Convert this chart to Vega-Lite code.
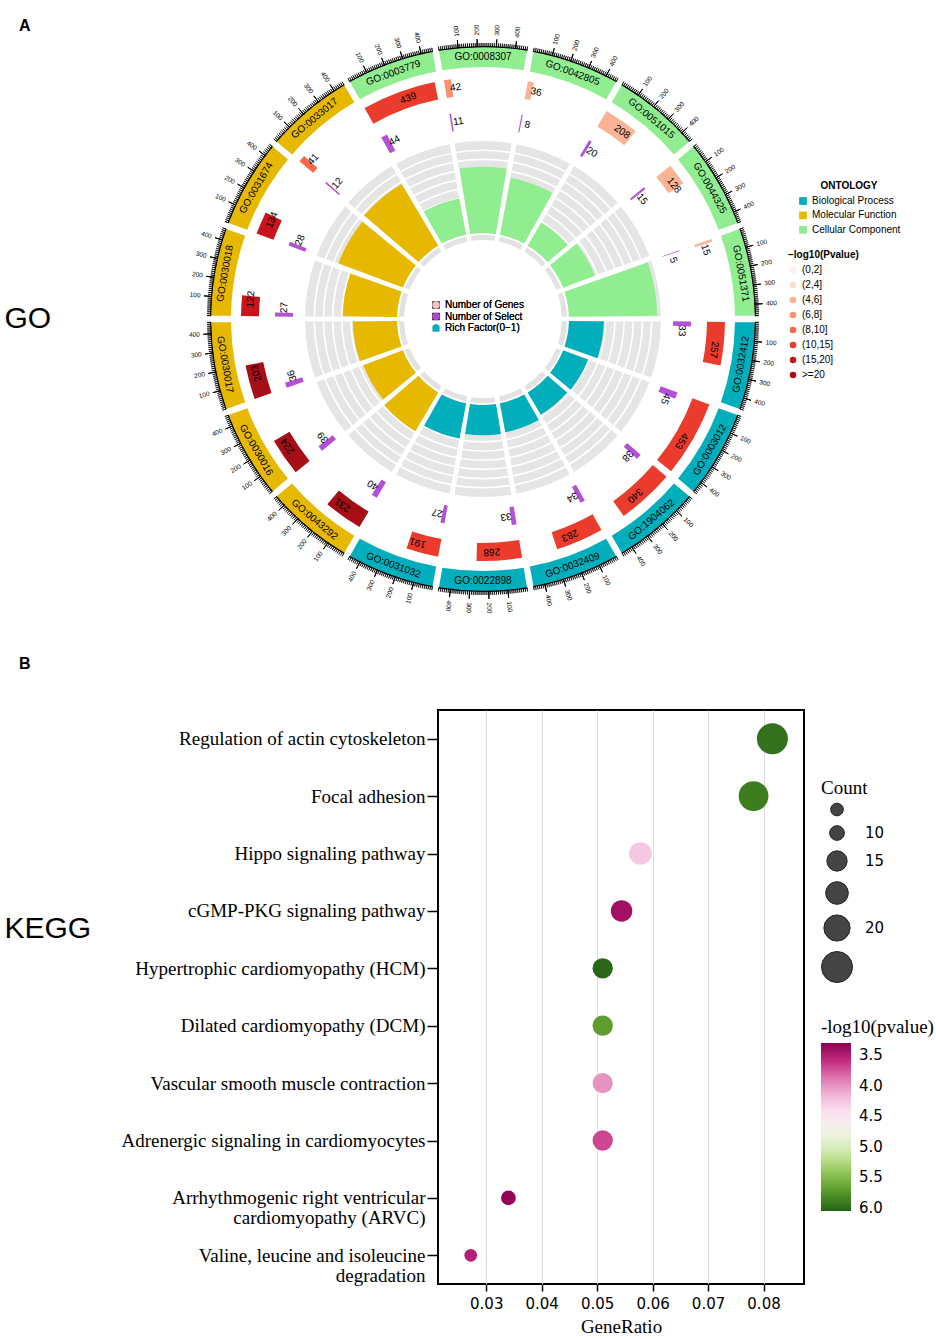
{
"$schema":"https://vega.github.io/schema/vega-lite/v6.json",
"background":"white",
"padding":{"left":3,"top":9,"right":0,"bottom":0},
"config":{"view":{"stroke":null},"font":"Liberation Sans","text":{"font":"Liberation Sans","color":"#000"},"legend":{"titleFont":"Liberation Sans","titleFontSize":10,"titleFontWeight":"bold","titleColor":"#000","labelFont":"Liberation Sans","labelFontSize":10,"labelColor":"#000"}},
"datasets":{
"go":[
{"idx":0,"term":"GO:0003779","ont":"Cellular Component","rich":0.40},
{"idx":1,"term":"GO:0008307","ont":"Cellular Component","rich":0.72},
{"idx":2,"term":"GO:0042805","ont":"Cellular Component","rich":0.63},
{"idx":3,"term":"GO:0051015","ont":"Cellular Component","rich":0.29},
{"idx":4,"term":"GO:0044325","ont":"Cellular Component","rich":0.37},
{"idx":5,"term":"GO:0051371","ont":"Cellular Component","rich":0.96},
{"idx":6,"term":"GO:0032412","ont":"Biological Process","rich":0.38},
{"idx":7,"term":"GO:0003012","ont":"Biological Process","rich":0.29},
{"idx":8,"term":"GO:1904062","ont":"Biological Process","rich":0.28},
{"idx":9,"term":"GO:0032409","ont":"Biological Process","rich":0.32},
{"idx":10,"term":"GO:0022898","ont":"Biological Process","rich":0.33},
{"idx":11,"term":"GO:0031032","ont":"Biological Process","rich":0.39},
{"idx":12,"term":"GO:0043292","ont":"Molecular Function","rich":0.49},
{"idx":13,"term":"GO:0030016","ont":"Molecular Function","rich":0.46},
{"idx":14,"term":"GO:0030017","ont":"Molecular Function","rich":0.48},
{"idx":15,"term":"GO:0030018","ont":"Molecular Function","rich":0.59},
{"idx":16,"term":"GO:0031674","ont":"Molecular Function","rich":0.75},
{"idx":17,"term":"GO:0033017","ont":"Molecular Function","rich":0.78}],
"bars":[
{"term":"GO:0003779","track":"genes","value":439,"plev":"(10,15]"},{"term":"GO:0003779","track":"select","value":44},
{"term":"GO:0008307","track":"genes","value":42,"plev":"(6,8]"},{"term":"GO:0008307","track":"select","value":11},
{"term":"GO:0042805","track":"genes","value":36,"plev":"(4,6]"},{"term":"GO:0042805","track":"select","value":8},
{"term":"GO:0051015","track":"genes","value":208,"plev":"(4,6]"},{"term":"GO:0051015","track":"select","value":20},
{"term":"GO:0044325","track":"genes","value":128,"plev":"(4,6]"},{"term":"GO:0044325","track":"select","value":15},
{"term":"GO:0051371","track":"genes","value":15,"plev":"(4,6]"},{"term":"GO:0051371","track":"select","value":5},
{"term":"GO:0032412","track":"genes","value":257,"plev":"(10,15]"},{"term":"GO:0032412","track":"select","value":33},
{"term":"GO:0003012","track":"genes","value":453,"plev":"(10,15]"},{"term":"GO:0003012","track":"select","value":45},
{"term":"GO:1904062","track":"genes","value":340,"plev":"(10,15]"},{"term":"GO:1904062","track":"select","value":38},
{"term":"GO:0032409","track":"genes","value":283,"plev":"(10,15]"},{"term":"GO:0032409","track":"select","value":34},
{"term":"GO:0022898","track":"genes","value":268,"plev":"(10,15]"},{"term":"GO:0022898","track":"select","value":33},
{"term":"GO:0031032","track":"genes","value":191,"plev":"(10,15]"},{"term":"GO:0031032","track":"select","value":27},
{"term":"GO:0043292","track":"genes","value":231,"plev":">=20"},{"term":"GO:0043292","track":"select","value":40},
{"term":"GO:0030016","track":"genes","value":224,"plev":">=20"},{"term":"GO:0030016","track":"select","value":39},
{"term":"GO:0030017","track":"genes","value":203,"plev":">=20"},{"term":"GO:0030017","track":"select","value":36},
{"term":"GO:0030018","track":"genes","value":122,"plev":"(15,20]"},{"term":"GO:0030018","track":"select","value":27},
{"term":"GO:0031674","track":"genes","value":134,"plev":"(15,20]"},{"term":"GO:0031674","track":"select","value":28},
{"term":"GO:0033017","track":"genes","value":41,"plev":"(8,10]"},{"term":"GO:0033017","track":"select","value":12}],
"minorTicks":[{"value":0},{"value":10},{"value":20},{"value":30},{"value":40},{"value":50},{"value":60},{"value":70},{"value":80},{"value":90},{"value":100},{"value":110},{"value":120},{"value":130},{"value":140},{"value":150},{"value":160},{"value":170},{"value":180},{"value":190},{"value":200},{"value":210},{"value":220},{"value":230},{"value":240},{"value":250},{"value":260},{"value":270},{"value":280},{"value":290},{"value":300},{"value":310},{"value":320},{"value":330},{"value":340},{"value":350},{"value":360},{"value":370},{"value":380},{"value":390},{"value":400},{"value":410},{"value":420},{"value":430},{"value":440},{"value":450},{"value":460}],
"majorTicks":[{"value":100},{"value":200},{"value":300},{"value":400}],
"grid":[{"level":0.1},{"level":0.2},{"level":0.3},{"level":0.4},{"level":0.5},{"level":0.6},{"level":0.7},{"level":0.8},{"level":0.9}],
"centerLegend":[{"item":"Number of Genes"},{"item":"Number of Select"},{"item":"Rich Factor(0−1)"}],
"kegg":[
{"pathway":"Regulation of actin cytoskeleton","ratio":0.0816,"count":24,"logp":5.97},
{"pathway":"Focal adhesion","ratio":0.0782,"count":23,"logp":5.9},
{"pathway":"Hippo signaling pathway","ratio":0.0578,"count":17,"logp":4.26},
{"pathway":"cGMP-PKG signaling pathway","ratio":0.0544,"count":16,"logp":3.41},
{"pathway":"Hypertrophic cardiomyopathy (HCM)","ratio":0.051,"count":15,"logp":6.03},
{"pathway":"Dilated cardiomyopathy (DCM)","ratio":0.051,"count":15,"logp":5.69},
{"pathway":"Vascular smooth muscle contraction","ratio":0.051,"count":15,"logp":3.99},
{"pathway":"Adrenergic signaling in cardiomyocytes","ratio":0.051,"count":15,"logp":3.69},
{"pathway":"Arrhythmogenic right ventricular cardiomyopathy (ARVC)","ratio":0.034,"count":10,"logp":3.33},
{"pathway":"Valine, leucine and isoleucine degradation","ratio":0.0272,"count":8,"logp":3.52}]
},
"spacing":26,
"resolve":{"scale":{"color":"independent","fill":"independent","size":"independent","shape":"independent","theta":"independent","radius":"independent","angle":"independent"}},
"vconcat":[
{
"width":90,"height":620,
"title":{"text":"A","anchor":"start","frame":"bounds","dx":15,"offset":-41,"baseline":"bottom","fontSize":16,"font":"Liberation Sans","fontWeight":"bold","color":"#000"},
"resolve":{"scale":{"theta":"independent","angle":"independent","fill":"independent"}},
"layer":[
{"data":{"name":"centerLegend"},"mark":{"type":"point","opacity":0,"filled":true},
 "encoding":{
  "y":{"field":"item","type":"nominal","axis":{"title":"GO","titleAngle":0,"titleX":-434,"titleY":309,"titleAlign":"left","titleBaseline":"middle","titleFont":"Liberation Sans","titleFontSize":30,"titleFontWeight":"normal","titleColor":"#000","labels":false,"ticks":false,"domain":false,"grid":false}},
  "fill":{"field":"item","type":"nominal","scale":{"domain":["Number of Genes","Number of Select","Rich Factor(0−1)"],"range":["#f9bfca","#b047d2","#00afbb"]},
   "legend":{"title":null,"orient":"none","legendX":-7,"legendY":291,"symbolSize":55,"symbolOpacity":1,"symbolStrokeWidth":0,"rowPadding":1.5,"labelFontSize":10}},
  "shape":{"field":"item","type":"nominal","scale":{"domain":["Number of Genes","Number of Select","Rich Factor(0−1)"],"range":["square","square","triangle-up"]},
   "legend":{"title":null,"orient":"none","legendX":-7,"legendY":291,"symbolSize":55,"symbolOpacity":1,"symbolStrokeWidth":0,"rowPadding":1.5,"labelFontSize":10}}}},
{"data":{"name":"go"},
 "encoding":{"theta":{"aggregate":"count","type":"quantitative","stack":true,"scale":{"domain":[0,18],"range":[-0.5236,5.7596]}},"order":{"field":"idx","type":"quantitative"}},
 "layer":[{"mark":{"type":"arc","radius":178,"radius2":86,"padAngle":0.025,"fill":"#e5e5e5"}}]},
{"data":{"name":"grid"},"mark":{"type":"arc","theta":0,"theta2":6.2832,"filled":false,"stroke":"#ffffff","strokeWidth":1.6},
 "encoding":{"radius":{"field":"level","type":"quantitative","scale":{"type":"linear","domain":[0,1],"range":[86,178],"zero":false}},"radius2":{"field":"level"}}},
{"data":{"name":"go"},
 "encoding":{"theta":{"aggregate":"count","type":"quantitative","stack":true,"scale":{"domain":[0,18],"range":[-0.5236,5.7596]}},"order":{"field":"idx","type":"quantitative"}},
 "layer":[
  {"mark":{"type":"arc","radius":84,"radius2":79,"padAngle":0.04,"fill":"#e2e2e2"}},
  {"mark":{"type":"arc","radius":272,"radius2":252,"padAngle":0.0172},"encoding":{"color":{"field":"ont","type":"nominal","scale":{"domain":["Biological Process","Molecular Function","Cellular Component"],"range":["#00AFBB","#E7B800","#90EE90"]},"legend":{"title":"ONTOLOGY","orient":"none","legendX":360,"legendY":172,"symbolType":"square","symbolSize":60,"rowPadding":4.4,"titleAnchor":"middle"}}}},
  {"mark":{"type":"arc","radius":273,"radius2":271.8,"padAngle":0.0166,"fill":"#000"}},
  {"mark":{"type":"text","radius":262,"fontSize":10,"baseline":"middle"},"encoding":{"text":{"field":"term"},"angle":{"field":"idx","type":"quantitative","scale":{"domain":[0,5,6,14,15,17],"range":[-20,80,-80,80,-80,-40]}}}}
 ]},
{"resolve":{"scale":{"theta":"independent","angle":"independent"}},"layer":[
{"encoding":{"theta":{"field":"value","type":"quantitative","stack":true,"scale":{"domain":[0,460],"range":[-0.51138,-0.18675]}}},"resolve":{"scale":{"angle":"independent"}},"layer":[
{"data":{"name":"go"},"transform":[{"filter":"datum.term=='GO:0003779'"}],"mark":{"type":"arc","radius2":86,"padAngle":0.012},"encoding":{"theta":{"value":-0.51138},"theta2":{"value":-0.18675},"radius":{"field":"rich","type":"quantitative","scale":{"type":"linear","domain":[0,1],"range":[86,178],"zero":false}},"color":{"field":"ont","type":"nominal","scale":{"domain":["Biological Process","Molecular Function","Cellular Component"],"range":["#00AFBB","#E7B800","#90EE90"]}}}},
{"data":{"name":"bars"},"transform":[{"filter":"datum.term=='GO:0003779'&&datum.track=='genes'"}],"layer":[
{"mark":{"type":"arc","radius":242,"radius2":224},"encoding":{"fill":{"field":"plev","type":"nominal","scale":{"domain":["(0,2]","(2,4]","(4,6]","(6,8]","(8,10]","(10,15]","(15,20]",">=20"],"range":["#fdf0ea","#fcdccf","#fbb396","#f9916f","#f5684b","#ea3b2c","#c8151c","#a50f15"]},"legend":{"title":"−log10(Pvalue)","orient":"none","legendX":350,"legendY":241,"symbolType":"circle","symbolSize":42,"rowPadding":5}}}},
{"mark":{"type":"text","radius":233,"dx":7,"fontSize":10},"encoding":{"text":{"field":"value","type":"quantitative","format":"d"},"angle":{"field":"value","type":"quantitative","scale":{"domain":[0,920],"range":[-29.3,-10.7]}}}}]},
{"data":{"name":"bars"},"transform":[{"filter":"datum.term=='GO:0003779'&&datum.track=='select'"}],"layer":[
{"mark":{"type":"arc","radius":208,"radius2":190,"fill":"#b44fd8"}},
{"mark":{"type":"text","radius":199,"dx":7,"fontSize":10},"encoding":{"text":{"field":"value","type":"quantitative","format":"d"},"angle":{"field":"value","type":"quantitative","scale":{"domain":[0,920],"range":[-29.3,-10.7]}}}}]},
{"data":{"name":"minorTicks"},"mark":{"type":"arc","radius":276,"radius2":272,"stroke":"#000","strokeWidth":0.7,"fill":"#000"},"encoding":{"theta":{"field":"value","type":"quantitative","stack":null,"scale":{"domain":[0,460],"range":[-0.51138,-0.18675]}},"theta2":{"field":"value"}}},
{"data":{"name":"majorTicks"},"encoding":{"theta":{"field":"value","type":"quantitative","stack":null,"scale":{"domain":[0,460],"range":[-0.51138,-0.18675]}}},"layer":[
{"mark":{"type":"arc","radius":280,"radius2":272,"stroke":"#000","strokeWidth":1,"fill":"#000"},"encoding":{"theta2":{"field":"value"}}},
{"mark":{"type":"text","radius":289,"fontSize":6.5},"encoding":{"text":{"field":"value","type":"quantitative","format":"d"},"angle":{"field":"value","type":"quantitative","scale":{"domain":[0,460],"range":[60.7,79.3]}}}}]}]},
{"encoding":{"theta":{"field":"value","type":"quantitative","stack":true,"scale":{"domain":[0,460],"range":[-0.16232,0.16232]}}},"resolve":{"scale":{"angle":"independent"}},"layer":[
{"data":{"name":"go"},"transform":[{"filter":"datum.term=='GO:0008307'"}],"mark":{"type":"arc","radius2":86,"padAngle":0.012},"encoding":{"theta":{"value":-0.16232},"theta2":{"value":0.16232},"radius":{"field":"rich","type":"quantitative","scale":{"type":"linear","domain":[0,1],"range":[86,178],"zero":false}},"color":{"field":"ont","type":"nominal","scale":{"domain":["Biological Process","Molecular Function","Cellular Component"],"range":["#00AFBB","#E7B800","#90EE90"]}}}},
{"data":{"name":"bars"},"transform":[{"filter":"datum.term=='GO:0008307'&&datum.track=='genes'"}],"layer":[
{"mark":{"type":"arc","radius":242,"radius2":224},"encoding":{"fill":{"field":"plev","type":"nominal","scale":{"domain":["(0,2]","(2,4]","(4,6]","(6,8]","(8,10]","(10,15]","(15,20]",">=20"],"range":["#fdf0ea","#fcdccf","#fbb396","#f9916f","#f5684b","#ea3b2c","#c8151c","#a50f15"]}}}},
{"mark":{"type":"text","radius":233,"dx":7,"fontSize":10},"encoding":{"text":{"field":"value","type":"quantitative","format":"d"},"angle":{"field":"value","type":"quantitative","scale":{"domain":[0,920],"range":[-9.3,9.3]}}}}]},
{"data":{"name":"bars"},"transform":[{"filter":"datum.term=='GO:0008307'&&datum.track=='select'"}],"layer":[
{"mark":{"type":"arc","radius":208,"radius2":190,"fill":"#b44fd8"}},
{"mark":{"type":"text","radius":199,"dx":7,"fontSize":10},"encoding":{"text":{"field":"value","type":"quantitative","format":"d"},"angle":{"field":"value","type":"quantitative","scale":{"domain":[0,920],"range":[-9.3,9.3]}}}}]},
{"data":{"name":"minorTicks"},"mark":{"type":"arc","radius":276,"radius2":272,"stroke":"#000","strokeWidth":0.7,"fill":"#000"},"encoding":{"theta":{"field":"value","type":"quantitative","stack":null,"scale":{"domain":[0,460],"range":[-0.16232,0.16232]}},"theta2":{"field":"value"}}},
{"data":{"name":"majorTicks"},"encoding":{"theta":{"field":"value","type":"quantitative","stack":null,"scale":{"domain":[0,460],"range":[-0.16232,0.16232]}}},"layer":[
{"mark":{"type":"arc","radius":280,"radius2":272,"stroke":"#000","strokeWidth":1,"fill":"#000"},"encoding":{"theta2":{"field":"value"}}},
{"mark":{"type":"text","radius":289,"fontSize":6.5},"encoding":{"text":{"field":"value","type":"quantitative","format":"d"},"angle":{"field":"value","type":"quantitative","scale":{"domain":[0,460],"range":[-99.3,-80.7]}}}}]}]},
{"encoding":{"theta":{"field":"value","type":"quantitative","stack":true,"scale":{"domain":[0,460],"range":[0.18675,0.51138]}}},"resolve":{"scale":{"angle":"independent"}},"layer":[
{"data":{"name":"go"},"transform":[{"filter":"datum.term=='GO:0042805'"}],"mark":{"type":"arc","radius2":86,"padAngle":0.012},"encoding":{"theta":{"value":0.18675},"theta2":{"value":0.51138},"radius":{"field":"rich","type":"quantitative","scale":{"type":"linear","domain":[0,1],"range":[86,178],"zero":false}},"color":{"field":"ont","type":"nominal","scale":{"domain":["Biological Process","Molecular Function","Cellular Component"],"range":["#00AFBB","#E7B800","#90EE90"]}}}},
{"data":{"name":"bars"},"transform":[{"filter":"datum.term=='GO:0042805'&&datum.track=='genes'"}],"layer":[
{"mark":{"type":"arc","radius":242,"radius2":224},"encoding":{"fill":{"field":"plev","type":"nominal","scale":{"domain":["(0,2]","(2,4]","(4,6]","(6,8]","(8,10]","(10,15]","(15,20]",">=20"],"range":["#fdf0ea","#fcdccf","#fbb396","#f9916f","#f5684b","#ea3b2c","#c8151c","#a50f15"]}}}},
{"mark":{"type":"text","radius":233,"dx":7,"fontSize":10},"encoding":{"text":{"field":"value","type":"quantitative","format":"d"},"angle":{"field":"value","type":"quantitative","scale":{"domain":[0,920],"range":[10.7,29.3]}}}}]},
{"data":{"name":"bars"},"transform":[{"filter":"datum.term=='GO:0042805'&&datum.track=='select'"}],"layer":[
{"mark":{"type":"arc","radius":208,"radius2":190,"fill":"#b44fd8"}},
{"mark":{"type":"text","radius":199,"dx":7,"fontSize":10},"encoding":{"text":{"field":"value","type":"quantitative","format":"d"},"angle":{"field":"value","type":"quantitative","scale":{"domain":[0,920],"range":[10.7,29.3]}}}}]},
{"data":{"name":"minorTicks"},"mark":{"type":"arc","radius":276,"radius2":272,"stroke":"#000","strokeWidth":0.7,"fill":"#000"},"encoding":{"theta":{"field":"value","type":"quantitative","stack":null,"scale":{"domain":[0,460],"range":[0.18675,0.51138]}},"theta2":{"field":"value"}}},
{"data":{"name":"majorTicks"},"encoding":{"theta":{"field":"value","type":"quantitative","stack":null,"scale":{"domain":[0,460],"range":[0.18675,0.51138]}}},"layer":[
{"mark":{"type":"arc","radius":280,"radius2":272,"stroke":"#000","strokeWidth":1,"fill":"#000"},"encoding":{"theta2":{"field":"value"}}},
{"mark":{"type":"text","radius":289,"fontSize":6.5},"encoding":{"text":{"field":"value","type":"quantitative","format":"d"},"angle":{"field":"value","type":"quantitative","scale":{"domain":[0,460],"range":[-79.3,-60.7]}}}}]}]},
{"encoding":{"theta":{"field":"value","type":"quantitative","stack":true,"scale":{"domain":[0,460],"range":[0.53582,0.86045]}}},"resolve":{"scale":{"angle":"independent"}},"layer":[
{"data":{"name":"go"},"transform":[{"filter":"datum.term=='GO:0051015'"}],"mark":{"type":"arc","radius2":86,"padAngle":0.012},"encoding":{"theta":{"value":0.53582},"theta2":{"value":0.86045},"radius":{"field":"rich","type":"quantitative","scale":{"type":"linear","domain":[0,1],"range":[86,178],"zero":false}},"color":{"field":"ont","type":"nominal","scale":{"domain":["Biological Process","Molecular Function","Cellular Component"],"range":["#00AFBB","#E7B800","#90EE90"]}}}},
{"data":{"name":"bars"},"transform":[{"filter":"datum.term=='GO:0051015'&&datum.track=='genes'"}],"layer":[
{"mark":{"type":"arc","radius":242,"radius2":224},"encoding":{"fill":{"field":"plev","type":"nominal","scale":{"domain":["(0,2]","(2,4]","(4,6]","(6,8]","(8,10]","(10,15]","(15,20]",">=20"],"range":["#fdf0ea","#fcdccf","#fbb396","#f9916f","#f5684b","#ea3b2c","#c8151c","#a50f15"]}}}},
{"mark":{"type":"text","radius":233,"dx":7,"fontSize":10},"encoding":{"text":{"field":"value","type":"quantitative","format":"d"},"angle":{"field":"value","type":"quantitative","scale":{"domain":[0,920],"range":[30.7,49.3]}}}}]},
{"data":{"name":"bars"},"transform":[{"filter":"datum.term=='GO:0051015'&&datum.track=='select'"}],"layer":[
{"mark":{"type":"arc","radius":208,"radius2":190,"fill":"#b44fd8"}},
{"mark":{"type":"text","radius":199,"dx":7,"fontSize":10},"encoding":{"text":{"field":"value","type":"quantitative","format":"d"},"angle":{"field":"value","type":"quantitative","scale":{"domain":[0,920],"range":[30.7,49.3]}}}}]},
{"data":{"name":"minorTicks"},"mark":{"type":"arc","radius":276,"radius2":272,"stroke":"#000","strokeWidth":0.7,"fill":"#000"},"encoding":{"theta":{"field":"value","type":"quantitative","stack":null,"scale":{"domain":[0,460],"range":[0.53582,0.86045]}},"theta2":{"field":"value"}}},
{"data":{"name":"majorTicks"},"encoding":{"theta":{"field":"value","type":"quantitative","stack":null,"scale":{"domain":[0,460],"range":[0.53582,0.86045]}}},"layer":[
{"mark":{"type":"arc","radius":280,"radius2":272,"stroke":"#000","strokeWidth":1,"fill":"#000"},"encoding":{"theta2":{"field":"value"}}},
{"mark":{"type":"text","radius":289,"fontSize":6.5},"encoding":{"text":{"field":"value","type":"quantitative","format":"d"},"angle":{"field":"value","type":"quantitative","scale":{"domain":[0,460],"range":[-59.3,-40.7]}}}}]}]},
{"encoding":{"theta":{"field":"value","type":"quantitative","stack":true,"scale":{"domain":[0,460],"range":[0.88488,1.20951]}}},"resolve":{"scale":{"angle":"independent"}},"layer":[
{"data":{"name":"go"},"transform":[{"filter":"datum.term=='GO:0044325'"}],"mark":{"type":"arc","radius2":86,"padAngle":0.012},"encoding":{"theta":{"value":0.88488},"theta2":{"value":1.20951},"radius":{"field":"rich","type":"quantitative","scale":{"type":"linear","domain":[0,1],"range":[86,178],"zero":false}},"color":{"field":"ont","type":"nominal","scale":{"domain":["Biological Process","Molecular Function","Cellular Component"],"range":["#00AFBB","#E7B800","#90EE90"]}}}},
{"data":{"name":"bars"},"transform":[{"filter":"datum.term=='GO:0044325'&&datum.track=='genes'"}],"layer":[
{"mark":{"type":"arc","radius":242,"radius2":224},"encoding":{"fill":{"field":"plev","type":"nominal","scale":{"domain":["(0,2]","(2,4]","(4,6]","(6,8]","(8,10]","(10,15]","(15,20]",">=20"],"range":["#fdf0ea","#fcdccf","#fbb396","#f9916f","#f5684b","#ea3b2c","#c8151c","#a50f15"]}}}},
{"mark":{"type":"text","radius":233,"dx":7,"fontSize":10},"encoding":{"text":{"field":"value","type":"quantitative","format":"d"},"angle":{"field":"value","type":"quantitative","scale":{"domain":[0,920],"range":[50.7,69.3]}}}}]},
{"data":{"name":"bars"},"transform":[{"filter":"datum.term=='GO:0044325'&&datum.track=='select'"}],"layer":[
{"mark":{"type":"arc","radius":208,"radius2":190,"fill":"#b44fd8"}},
{"mark":{"type":"text","radius":199,"dx":7,"fontSize":10},"encoding":{"text":{"field":"value","type":"quantitative","format":"d"},"angle":{"field":"value","type":"quantitative","scale":{"domain":[0,920],"range":[50.7,69.3]}}}}]},
{"data":{"name":"minorTicks"},"mark":{"type":"arc","radius":276,"radius2":272,"stroke":"#000","strokeWidth":0.7,"fill":"#000"},"encoding":{"theta":{"field":"value","type":"quantitative","stack":null,"scale":{"domain":[0,460],"range":[0.88488,1.20951]}},"theta2":{"field":"value"}}},
{"data":{"name":"majorTicks"},"encoding":{"theta":{"field":"value","type":"quantitative","stack":null,"scale":{"domain":[0,460],"range":[0.88488,1.20951]}}},"layer":[
{"mark":{"type":"arc","radius":280,"radius2":272,"stroke":"#000","strokeWidth":1,"fill":"#000"},"encoding":{"theta2":{"field":"value"}}},
{"mark":{"type":"text","radius":289,"fontSize":6.5},"encoding":{"text":{"field":"value","type":"quantitative","format":"d"},"angle":{"field":"value","type":"quantitative","scale":{"domain":[0,460],"range":[-39.3,-20.7]}}}}]}]},
{"encoding":{"theta":{"field":"value","type":"quantitative","stack":true,"scale":{"domain":[0,460],"range":[1.23395,1.55858]}}},"resolve":{"scale":{"angle":"independent"}},"layer":[
{"data":{"name":"go"},"transform":[{"filter":"datum.term=='GO:0051371'"}],"mark":{"type":"arc","radius2":86,"padAngle":0.012},"encoding":{"theta":{"value":1.23395},"theta2":{"value":1.55858},"radius":{"field":"rich","type":"quantitative","scale":{"type":"linear","domain":[0,1],"range":[86,178],"zero":false}},"color":{"field":"ont","type":"nominal","scale":{"domain":["Biological Process","Molecular Function","Cellular Component"],"range":["#00AFBB","#E7B800","#90EE90"]}}}},
{"data":{"name":"bars"},"transform":[{"filter":"datum.term=='GO:0051371'&&datum.track=='genes'"}],"layer":[
{"mark":{"type":"arc","radius":242,"radius2":224},"encoding":{"fill":{"field":"plev","type":"nominal","scale":{"domain":["(0,2]","(2,4]","(4,6]","(6,8]","(8,10]","(10,15]","(15,20]",">=20"],"range":["#fdf0ea","#fcdccf","#fbb396","#f9916f","#f5684b","#ea3b2c","#c8151c","#a50f15"]}}}},
{"mark":{"type":"text","radius":233,"dx":7,"fontSize":10},"encoding":{"text":{"field":"value","type":"quantitative","format":"d"},"angle":{"field":"value","type":"quantitative","scale":{"domain":[0,920],"range":[70.7,89.3]}}}}]},
{"data":{"name":"bars"},"transform":[{"filter":"datum.term=='GO:0051371'&&datum.track=='select'"}],"layer":[
{"mark":{"type":"arc","radius":208,"radius2":190,"fill":"#b44fd8"}},
{"mark":{"type":"text","radius":199,"dx":7,"fontSize":10},"encoding":{"text":{"field":"value","type":"quantitative","format":"d"},"angle":{"field":"value","type":"quantitative","scale":{"domain":[0,920],"range":[70.7,89.3]}}}}]},
{"data":{"name":"minorTicks"},"mark":{"type":"arc","radius":276,"radius2":272,"stroke":"#000","strokeWidth":0.7,"fill":"#000"},"encoding":{"theta":{"field":"value","type":"quantitative","stack":null,"scale":{"domain":[0,460],"range":[1.23395,1.55858]}},"theta2":{"field":"value"}}},
{"data":{"name":"majorTicks"},"encoding":{"theta":{"field":"value","type":"quantitative","stack":null,"scale":{"domain":[0,460],"range":[1.23395,1.55858]}}},"layer":[
{"mark":{"type":"arc","radius":280,"radius2":272,"stroke":"#000","strokeWidth":1,"fill":"#000"},"encoding":{"theta2":{"field":"value"}}},
{"mark":{"type":"text","radius":289,"fontSize":6.5},"encoding":{"text":{"field":"value","type":"quantitative","format":"d"},"angle":{"field":"value","type":"quantitative","scale":{"domain":[0,460],"range":[-19.3,-0.7]}}}}]}]},
{"encoding":{"theta":{"field":"value","type":"quantitative","stack":true,"scale":{"domain":[0,460],"range":[1.58301,1.90764]}}},"resolve":{"scale":{"angle":"independent"}},"layer":[
{"data":{"name":"go"},"transform":[{"filter":"datum.term=='GO:0032412'"}],"mark":{"type":"arc","radius2":86,"padAngle":0.012},"encoding":{"theta":{"value":1.58301},"theta2":{"value":1.90764},"radius":{"field":"rich","type":"quantitative","scale":{"type":"linear","domain":[0,1],"range":[86,178],"zero":false}},"color":{"field":"ont","type":"nominal","scale":{"domain":["Biological Process","Molecular Function","Cellular Component"],"range":["#00AFBB","#E7B800","#90EE90"]}}}},
{"data":{"name":"bars"},"transform":[{"filter":"datum.term=='GO:0032412'&&datum.track=='genes'"}],"layer":[
{"mark":{"type":"arc","radius":242,"radius2":224},"encoding":{"fill":{"field":"plev","type":"nominal","scale":{"domain":["(0,2]","(2,4]","(4,6]","(6,8]","(8,10]","(10,15]","(15,20]",">=20"],"range":["#fdf0ea","#fcdccf","#fbb396","#f9916f","#f5684b","#ea3b2c","#c8151c","#a50f15"]}}}},
{"mark":{"type":"text","radius":233,"dx":7,"fontSize":10},"encoding":{"text":{"field":"value","type":"quantitative","format":"d"},"angle":{"field":"value","type":"quantitative","scale":{"domain":[0,920],"range":[90.7,109.3]}}}}]},
{"data":{"name":"bars"},"transform":[{"filter":"datum.term=='GO:0032412'&&datum.track=='select'"}],"layer":[
{"mark":{"type":"arc","radius":208,"radius2":190,"fill":"#b44fd8"}},
{"mark":{"type":"text","radius":199,"dx":7,"fontSize":10},"encoding":{"text":{"field":"value","type":"quantitative","format":"d"},"angle":{"field":"value","type":"quantitative","scale":{"domain":[0,920],"range":[90.7,109.3]}}}}]},
{"data":{"name":"minorTicks"},"mark":{"type":"arc","radius":276,"radius2":272,"stroke":"#000","strokeWidth":0.7,"fill":"#000"},"encoding":{"theta":{"field":"value","type":"quantitative","stack":null,"scale":{"domain":[0,460],"range":[1.58301,1.90764]}},"theta2":{"field":"value"}}},
{"data":{"name":"majorTicks"},"encoding":{"theta":{"field":"value","type":"quantitative","stack":null,"scale":{"domain":[0,460],"range":[1.58301,1.90764]}}},"layer":[
{"mark":{"type":"arc","radius":280,"radius2":272,"stroke":"#000","strokeWidth":1,"fill":"#000"},"encoding":{"theta2":{"field":"value"}}},
{"mark":{"type":"text","radius":289,"fontSize":6.5},"encoding":{"text":{"field":"value","type":"quantitative","format":"d"},"angle":{"field":"value","type":"quantitative","scale":{"domain":[0,460],"range":[0.7,19.3]}}}}]}]},
{"encoding":{"theta":{"field":"value","type":"quantitative","stack":true,"scale":{"domain":[0,460],"range":[1.93208,2.25671]}}},"resolve":{"scale":{"angle":"independent"}},"layer":[
{"data":{"name":"go"},"transform":[{"filter":"datum.term=='GO:0003012'"}],"mark":{"type":"arc","radius2":86,"padAngle":0.012},"encoding":{"theta":{"value":1.93208},"theta2":{"value":2.25671},"radius":{"field":"rich","type":"quantitative","scale":{"type":"linear","domain":[0,1],"range":[86,178],"zero":false}},"color":{"field":"ont","type":"nominal","scale":{"domain":["Biological Process","Molecular Function","Cellular Component"],"range":["#00AFBB","#E7B800","#90EE90"]}}}},
{"data":{"name":"bars"},"transform":[{"filter":"datum.term=='GO:0003012'&&datum.track=='genes'"}],"layer":[
{"mark":{"type":"arc","radius":242,"radius2":224},"encoding":{"fill":{"field":"plev","type":"nominal","scale":{"domain":["(0,2]","(2,4]","(4,6]","(6,8]","(8,10]","(10,15]","(15,20]",">=20"],"range":["#fdf0ea","#fcdccf","#fbb396","#f9916f","#f5684b","#ea3b2c","#c8151c","#a50f15"]}}}},
{"mark":{"type":"text","radius":233,"dx":7,"fontSize":10},"encoding":{"text":{"field":"value","type":"quantitative","format":"d"},"angle":{"field":"value","type":"quantitative","scale":{"domain":[0,920],"range":[110.7,129.3]}}}}]},
{"data":{"name":"bars"},"transform":[{"filter":"datum.term=='GO:0003012'&&datum.track=='select'"}],"layer":[
{"mark":{"type":"arc","radius":208,"radius2":190,"fill":"#b44fd8"}},
{"mark":{"type":"text","radius":199,"dx":7,"fontSize":10},"encoding":{"text":{"field":"value","type":"quantitative","format":"d"},"angle":{"field":"value","type":"quantitative","scale":{"domain":[0,920],"range":[110.7,129.3]}}}}]},
{"data":{"name":"minorTicks"},"mark":{"type":"arc","radius":276,"radius2":272,"stroke":"#000","strokeWidth":0.7,"fill":"#000"},"encoding":{"theta":{"field":"value","type":"quantitative","stack":null,"scale":{"domain":[0,460],"range":[1.93208,2.25671]}},"theta2":{"field":"value"}}},
{"data":{"name":"majorTicks"},"encoding":{"theta":{"field":"value","type":"quantitative","stack":null,"scale":{"domain":[0,460],"range":[1.93208,2.25671]}}},"layer":[
{"mark":{"type":"arc","radius":280,"radius2":272,"stroke":"#000","strokeWidth":1,"fill":"#000"},"encoding":{"theta2":{"field":"value"}}},
{"mark":{"type":"text","radius":289,"fontSize":6.5},"encoding":{"text":{"field":"value","type":"quantitative","format":"d"},"angle":{"field":"value","type":"quantitative","scale":{"domain":[0,460],"range":[20.7,39.3]}}}}]}]},
{"encoding":{"theta":{"field":"value","type":"quantitative","stack":true,"scale":{"domain":[0,460],"range":[2.28115,2.60578]}}},"resolve":{"scale":{"angle":"independent"}},"layer":[
{"data":{"name":"go"},"transform":[{"filter":"datum.term=='GO:1904062'"}],"mark":{"type":"arc","radius2":86,"padAngle":0.012},"encoding":{"theta":{"value":2.28115},"theta2":{"value":2.60578},"radius":{"field":"rich","type":"quantitative","scale":{"type":"linear","domain":[0,1],"range":[86,178],"zero":false}},"color":{"field":"ont","type":"nominal","scale":{"domain":["Biological Process","Molecular Function","Cellular Component"],"range":["#00AFBB","#E7B800","#90EE90"]}}}},
{"data":{"name":"bars"},"transform":[{"filter":"datum.term=='GO:1904062'&&datum.track=='genes'"}],"layer":[
{"mark":{"type":"arc","radius":242,"radius2":224},"encoding":{"fill":{"field":"plev","type":"nominal","scale":{"domain":["(0,2]","(2,4]","(4,6]","(6,8]","(8,10]","(10,15]","(15,20]",">=20"],"range":["#fdf0ea","#fcdccf","#fbb396","#f9916f","#f5684b","#ea3b2c","#c8151c","#a50f15"]}}}},
{"mark":{"type":"text","radius":233,"dx":7,"fontSize":10},"encoding":{"text":{"field":"value","type":"quantitative","format":"d"},"angle":{"field":"value","type":"quantitative","scale":{"domain":[0,920],"range":[130.7,149.3]}}}}]},
{"data":{"name":"bars"},"transform":[{"filter":"datum.term=='GO:1904062'&&datum.track=='select'"}],"layer":[
{"mark":{"type":"arc","radius":208,"radius2":190,"fill":"#b44fd8"}},
{"mark":{"type":"text","radius":199,"dx":7,"fontSize":10},"encoding":{"text":{"field":"value","type":"quantitative","format":"d"},"angle":{"field":"value","type":"quantitative","scale":{"domain":[0,920],"range":[130.7,149.3]}}}}]},
{"data":{"name":"minorTicks"},"mark":{"type":"arc","radius":276,"radius2":272,"stroke":"#000","strokeWidth":0.7,"fill":"#000"},"encoding":{"theta":{"field":"value","type":"quantitative","stack":null,"scale":{"domain":[0,460],"range":[2.28115,2.60578]}},"theta2":{"field":"value"}}},
{"data":{"name":"majorTicks"},"encoding":{"theta":{"field":"value","type":"quantitative","stack":null,"scale":{"domain":[0,460],"range":[2.28115,2.60578]}}},"layer":[
{"mark":{"type":"arc","radius":280,"radius2":272,"stroke":"#000","strokeWidth":1,"fill":"#000"},"encoding":{"theta2":{"field":"value"}}},
{"mark":{"type":"text","radius":289,"fontSize":6.5},"encoding":{"text":{"field":"value","type":"quantitative","format":"d"},"angle":{"field":"value","type":"quantitative","scale":{"domain":[0,460],"range":[40.7,59.3]}}}}]}]},
{"encoding":{"theta":{"field":"value","type":"quantitative","stack":true,"scale":{"domain":[0,460],"range":[2.63021,2.95484]}}},"resolve":{"scale":{"angle":"independent"}},"layer":[
{"data":{"name":"go"},"transform":[{"filter":"datum.term=='GO:0032409'"}],"mark":{"type":"arc","radius2":86,"padAngle":0.012},"encoding":{"theta":{"value":2.63021},"theta2":{"value":2.95484},"radius":{"field":"rich","type":"quantitative","scale":{"type":"linear","domain":[0,1],"range":[86,178],"zero":false}},"color":{"field":"ont","type":"nominal","scale":{"domain":["Biological Process","Molecular Function","Cellular Component"],"range":["#00AFBB","#E7B800","#90EE90"]}}}},
{"data":{"name":"bars"},"transform":[{"filter":"datum.term=='GO:0032409'&&datum.track=='genes'"}],"layer":[
{"mark":{"type":"arc","radius":242,"radius2":224},"encoding":{"fill":{"field":"plev","type":"nominal","scale":{"domain":["(0,2]","(2,4]","(4,6]","(6,8]","(8,10]","(10,15]","(15,20]",">=20"],"range":["#fdf0ea","#fcdccf","#fbb396","#f9916f","#f5684b","#ea3b2c","#c8151c","#a50f15"]}}}},
{"mark":{"type":"text","radius":233,"dx":7,"fontSize":10},"encoding":{"text":{"field":"value","type":"quantitative","format":"d"},"angle":{"field":"value","type":"quantitative","scale":{"domain":[0,920],"range":[150.7,169.3]}}}}]},
{"data":{"name":"bars"},"transform":[{"filter":"datum.term=='GO:0032409'&&datum.track=='select'"}],"layer":[
{"mark":{"type":"arc","radius":208,"radius2":190,"fill":"#b44fd8"}},
{"mark":{"type":"text","radius":199,"dx":7,"fontSize":10},"encoding":{"text":{"field":"value","type":"quantitative","format":"d"},"angle":{"field":"value","type":"quantitative","scale":{"domain":[0,920],"range":[150.7,169.3]}}}}]},
{"data":{"name":"minorTicks"},"mark":{"type":"arc","radius":276,"radius2":272,"stroke":"#000","strokeWidth":0.7,"fill":"#000"},"encoding":{"theta":{"field":"value","type":"quantitative","stack":null,"scale":{"domain":[0,460],"range":[2.63021,2.95484]}},"theta2":{"field":"value"}}},
{"data":{"name":"majorTicks"},"encoding":{"theta":{"field":"value","type":"quantitative","stack":null,"scale":{"domain":[0,460],"range":[2.63021,2.95484]}}},"layer":[
{"mark":{"type":"arc","radius":280,"radius2":272,"stroke":"#000","strokeWidth":1,"fill":"#000"},"encoding":{"theta2":{"field":"value"}}},
{"mark":{"type":"text","radius":289,"fontSize":6.5},"encoding":{"text":{"field":"value","type":"quantitative","format":"d"},"angle":{"field":"value","type":"quantitative","scale":{"domain":[0,460],"range":[60.7,79.3]}}}}]}]},
{"encoding":{"theta":{"field":"value","type":"quantitative","stack":true,"scale":{"domain":[0,460],"range":[2.97928,3.30391]}}},"resolve":{"scale":{"angle":"independent"}},"layer":[
{"data":{"name":"go"},"transform":[{"filter":"datum.term=='GO:0022898'"}],"mark":{"type":"arc","radius2":86,"padAngle":0.012},"encoding":{"theta":{"value":2.97928},"theta2":{"value":3.30391},"radius":{"field":"rich","type":"quantitative","scale":{"type":"linear","domain":[0,1],"range":[86,178],"zero":false}},"color":{"field":"ont","type":"nominal","scale":{"domain":["Biological Process","Molecular Function","Cellular Component"],"range":["#00AFBB","#E7B800","#90EE90"]}}}},
{"data":{"name":"bars"},"transform":[{"filter":"datum.term=='GO:0022898'&&datum.track=='genes'"}],"layer":[
{"mark":{"type":"arc","radius":242,"radius2":224},"encoding":{"fill":{"field":"plev","type":"nominal","scale":{"domain":["(0,2]","(2,4]","(4,6]","(6,8]","(8,10]","(10,15]","(15,20]",">=20"],"range":["#fdf0ea","#fcdccf","#fbb396","#f9916f","#f5684b","#ea3b2c","#c8151c","#a50f15"]}}}},
{"mark":{"type":"text","radius":233,"dx":7,"fontSize":10},"encoding":{"text":{"field":"value","type":"quantitative","format":"d"},"angle":{"field":"value","type":"quantitative","scale":{"domain":[0,920],"range":[170.7,189.3]}}}}]},
{"data":{"name":"bars"},"transform":[{"filter":"datum.term=='GO:0022898'&&datum.track=='select'"}],"layer":[
{"mark":{"type":"arc","radius":208,"radius2":190,"fill":"#b44fd8"}},
{"mark":{"type":"text","radius":199,"dx":7,"fontSize":10},"encoding":{"text":{"field":"value","type":"quantitative","format":"d"},"angle":{"field":"value","type":"quantitative","scale":{"domain":[0,920],"range":[170.7,189.3]}}}}]},
{"data":{"name":"minorTicks"},"mark":{"type":"arc","radius":276,"radius2":272,"stroke":"#000","strokeWidth":0.7,"fill":"#000"},"encoding":{"theta":{"field":"value","type":"quantitative","stack":null,"scale":{"domain":[0,460],"range":[2.97928,3.30391]}},"theta2":{"field":"value"}}},
{"data":{"name":"majorTicks"},"encoding":{"theta":{"field":"value","type":"quantitative","stack":null,"scale":{"domain":[0,460],"range":[2.97928,3.30391]}}},"layer":[
{"mark":{"type":"arc","radius":280,"radius2":272,"stroke":"#000","strokeWidth":1,"fill":"#000"},"encoding":{"theta2":{"field":"value"}}},
{"mark":{"type":"text","radius":289,"fontSize":6.5},"encoding":{"text":{"field":"value","type":"quantitative","format":"d"},"angle":{"field":"value","type":"quantitative","scale":{"domain":[0,460],"range":[80.7,99.3]}}}}]}]},
{"encoding":{"theta":{"field":"value","type":"quantitative","stack":true,"scale":{"domain":[0,460],"range":[3.32834,3.65297]}}},"resolve":{"scale":{"angle":"independent"}},"layer":[
{"data":{"name":"go"},"transform":[{"filter":"datum.term=='GO:0031032'"}],"mark":{"type":"arc","radius2":86,"padAngle":0.012},"encoding":{"theta":{"value":3.32834},"theta2":{"value":3.65297},"radius":{"field":"rich","type":"quantitative","scale":{"type":"linear","domain":[0,1],"range":[86,178],"zero":false}},"color":{"field":"ont","type":"nominal","scale":{"domain":["Biological Process","Molecular Function","Cellular Component"],"range":["#00AFBB","#E7B800","#90EE90"]}}}},
{"data":{"name":"bars"},"transform":[{"filter":"datum.term=='GO:0031032'&&datum.track=='genes'"}],"layer":[
{"mark":{"type":"arc","radius":242,"radius2":224},"encoding":{"fill":{"field":"plev","type":"nominal","scale":{"domain":["(0,2]","(2,4]","(4,6]","(6,8]","(8,10]","(10,15]","(15,20]",">=20"],"range":["#fdf0ea","#fcdccf","#fbb396","#f9916f","#f5684b","#ea3b2c","#c8151c","#a50f15"]}}}},
{"mark":{"type":"text","radius":233,"dx":7,"fontSize":10},"encoding":{"text":{"field":"value","type":"quantitative","format":"d"},"angle":{"field":"value","type":"quantitative","scale":{"domain":[0,920],"range":[190.7,209.3]}}}}]},
{"data":{"name":"bars"},"transform":[{"filter":"datum.term=='GO:0031032'&&datum.track=='select'"}],"layer":[
{"mark":{"type":"arc","radius":208,"radius2":190,"fill":"#b44fd8"}},
{"mark":{"type":"text","radius":199,"dx":7,"fontSize":10},"encoding":{"text":{"field":"value","type":"quantitative","format":"d"},"angle":{"field":"value","type":"quantitative","scale":{"domain":[0,920],"range":[190.7,209.3]}}}}]},
{"data":{"name":"minorTicks"},"mark":{"type":"arc","radius":276,"radius2":272,"stroke":"#000","strokeWidth":0.7,"fill":"#000"},"encoding":{"theta":{"field":"value","type":"quantitative","stack":null,"scale":{"domain":[0,460],"range":[3.32834,3.65297]}},"theta2":{"field":"value"}}},
{"data":{"name":"majorTicks"},"encoding":{"theta":{"field":"value","type":"quantitative","stack":null,"scale":{"domain":[0,460],"range":[3.32834,3.65297]}}},"layer":[
{"mark":{"type":"arc","radius":280,"radius2":272,"stroke":"#000","strokeWidth":1,"fill":"#000"},"encoding":{"theta2":{"field":"value"}}},
{"mark":{"type":"text","radius":289,"fontSize":6.5},"encoding":{"text":{"field":"value","type":"quantitative","format":"d"},"angle":{"field":"value","type":"quantitative","scale":{"domain":[0,460],"range":[280.7,299.3]}}}}]}]},
{"encoding":{"theta":{"field":"value","type":"quantitative","stack":true,"scale":{"domain":[0,460],"range":[3.67741,4.00204]}}},"resolve":{"scale":{"angle":"independent"}},"layer":[
{"data":{"name":"go"},"transform":[{"filter":"datum.term=='GO:0043292'"}],"mark":{"type":"arc","radius2":86,"padAngle":0.012},"encoding":{"theta":{"value":3.67741},"theta2":{"value":4.00204},"radius":{"field":"rich","type":"quantitative","scale":{"type":"linear","domain":[0,1],"range":[86,178],"zero":false}},"color":{"field":"ont","type":"nominal","scale":{"domain":["Biological Process","Molecular Function","Cellular Component"],"range":["#00AFBB","#E7B800","#90EE90"]}}}},
{"data":{"name":"bars"},"transform":[{"filter":"datum.term=='GO:0043292'&&datum.track=='genes'"}],"layer":[
{"mark":{"type":"arc","radius":242,"radius2":224},"encoding":{"fill":{"field":"plev","type":"nominal","scale":{"domain":["(0,2]","(2,4]","(4,6]","(6,8]","(8,10]","(10,15]","(15,20]",">=20"],"range":["#fdf0ea","#fcdccf","#fbb396","#f9916f","#f5684b","#ea3b2c","#c8151c","#a50f15"]}}}},
{"mark":{"type":"text","radius":233,"dx":7,"fontSize":10},"encoding":{"text":{"field":"value","type":"quantitative","format":"d"},"angle":{"field":"value","type":"quantitative","scale":{"domain":[0,920],"range":[210.7,229.3]}}}}]},
{"data":{"name":"bars"},"transform":[{"filter":"datum.term=='GO:0043292'&&datum.track=='select'"}],"layer":[
{"mark":{"type":"arc","radius":208,"radius2":190,"fill":"#b44fd8"}},
{"mark":{"type":"text","radius":199,"dx":7,"fontSize":10},"encoding":{"text":{"field":"value","type":"quantitative","format":"d"},"angle":{"field":"value","type":"quantitative","scale":{"domain":[0,920],"range":[210.7,229.3]}}}}]},
{"data":{"name":"minorTicks"},"mark":{"type":"arc","radius":276,"radius2":272,"stroke":"#000","strokeWidth":0.7,"fill":"#000"},"encoding":{"theta":{"field":"value","type":"quantitative","stack":null,"scale":{"domain":[0,460],"range":[3.67741,4.00204]}},"theta2":{"field":"value"}}},
{"data":{"name":"majorTicks"},"encoding":{"theta":{"field":"value","type":"quantitative","stack":null,"scale":{"domain":[0,460],"range":[3.67741,4.00204]}}},"layer":[
{"mark":{"type":"arc","radius":280,"radius2":272,"stroke":"#000","strokeWidth":1,"fill":"#000"},"encoding":{"theta2":{"field":"value"}}},
{"mark":{"type":"text","radius":289,"fontSize":6.5},"encoding":{"text":{"field":"value","type":"quantitative","format":"d"},"angle":{"field":"value","type":"quantitative","scale":{"domain":[0,460],"range":[300.7,319.3]}}}}]}]},
{"encoding":{"theta":{"field":"value","type":"quantitative","stack":true,"scale":{"domain":[0,460],"range":[4.02648,4.35111]}}},"resolve":{"scale":{"angle":"independent"}},"layer":[
{"data":{"name":"go"},"transform":[{"filter":"datum.term=='GO:0030016'"}],"mark":{"type":"arc","radius2":86,"padAngle":0.012},"encoding":{"theta":{"value":4.02648},"theta2":{"value":4.35111},"radius":{"field":"rich","type":"quantitative","scale":{"type":"linear","domain":[0,1],"range":[86,178],"zero":false}},"color":{"field":"ont","type":"nominal","scale":{"domain":["Biological Process","Molecular Function","Cellular Component"],"range":["#00AFBB","#E7B800","#90EE90"]}}}},
{"data":{"name":"bars"},"transform":[{"filter":"datum.term=='GO:0030016'&&datum.track=='genes'"}],"layer":[
{"mark":{"type":"arc","radius":242,"radius2":224},"encoding":{"fill":{"field":"plev","type":"nominal","scale":{"domain":["(0,2]","(2,4]","(4,6]","(6,8]","(8,10]","(10,15]","(15,20]",">=20"],"range":["#fdf0ea","#fcdccf","#fbb396","#f9916f","#f5684b","#ea3b2c","#c8151c","#a50f15"]}}}},
{"mark":{"type":"text","radius":233,"dx":7,"fontSize":10},"encoding":{"text":{"field":"value","type":"quantitative","format":"d"},"angle":{"field":"value","type":"quantitative","scale":{"domain":[0,920],"range":[230.7,249.3]}}}}]},
{"data":{"name":"bars"},"transform":[{"filter":"datum.term=='GO:0030016'&&datum.track=='select'"}],"layer":[
{"mark":{"type":"arc","radius":208,"radius2":190,"fill":"#b44fd8"}},
{"mark":{"type":"text","radius":199,"dx":7,"fontSize":10},"encoding":{"text":{"field":"value","type":"quantitative","format":"d"},"angle":{"field":"value","type":"quantitative","scale":{"domain":[0,920],"range":[230.7,249.3]}}}}]},
{"data":{"name":"minorTicks"},"mark":{"type":"arc","radius":276,"radius2":272,"stroke":"#000","strokeWidth":0.7,"fill":"#000"},"encoding":{"theta":{"field":"value","type":"quantitative","stack":null,"scale":{"domain":[0,460],"range":[4.02648,4.35111]}},"theta2":{"field":"value"}}},
{"data":{"name":"majorTicks"},"encoding":{"theta":{"field":"value","type":"quantitative","stack":null,"scale":{"domain":[0,460],"range":[4.02648,4.35111]}}},"layer":[
{"mark":{"type":"arc","radius":280,"radius2":272,"stroke":"#000","strokeWidth":1,"fill":"#000"},"encoding":{"theta2":{"field":"value"}}},
{"mark":{"type":"text","radius":289,"fontSize":6.5},"encoding":{"text":{"field":"value","type":"quantitative","format":"d"},"angle":{"field":"value","type":"quantitative","scale":{"domain":[0,460],"range":[320.7,339.3]}}}}]}]},
{"encoding":{"theta":{"field":"value","type":"quantitative","stack":true,"scale":{"domain":[0,460],"range":[4.37554,4.70017]}}},"resolve":{"scale":{"angle":"independent"}},"layer":[
{"data":{"name":"go"},"transform":[{"filter":"datum.term=='GO:0030017'"}],"mark":{"type":"arc","radius2":86,"padAngle":0.012},"encoding":{"theta":{"value":4.37554},"theta2":{"value":4.70017},"radius":{"field":"rich","type":"quantitative","scale":{"type":"linear","domain":[0,1],"range":[86,178],"zero":false}},"color":{"field":"ont","type":"nominal","scale":{"domain":["Biological Process","Molecular Function","Cellular Component"],"range":["#00AFBB","#E7B800","#90EE90"]}}}},
{"data":{"name":"bars"},"transform":[{"filter":"datum.term=='GO:0030017'&&datum.track=='genes'"}],"layer":[
{"mark":{"type":"arc","radius":242,"radius2":224},"encoding":{"fill":{"field":"plev","type":"nominal","scale":{"domain":["(0,2]","(2,4]","(4,6]","(6,8]","(8,10]","(10,15]","(15,20]",">=20"],"range":["#fdf0ea","#fcdccf","#fbb396","#f9916f","#f5684b","#ea3b2c","#c8151c","#a50f15"]}}}},
{"mark":{"type":"text","radius":233,"dx":7,"fontSize":10},"encoding":{"text":{"field":"value","type":"quantitative","format":"d"},"angle":{"field":"value","type":"quantitative","scale":{"domain":[0,920],"range":[250.7,269.3]}}}}]},
{"data":{"name":"bars"},"transform":[{"filter":"datum.term=='GO:0030017'&&datum.track=='select'"}],"layer":[
{"mark":{"type":"arc","radius":208,"radius2":190,"fill":"#b44fd8"}},
{"mark":{"type":"text","radius":199,"dx":7,"fontSize":10},"encoding":{"text":{"field":"value","type":"quantitative","format":"d"},"angle":{"field":"value","type":"quantitative","scale":{"domain":[0,920],"range":[250.7,269.3]}}}}]},
{"data":{"name":"minorTicks"},"mark":{"type":"arc","radius":276,"radius2":272,"stroke":"#000","strokeWidth":0.7,"fill":"#000"},"encoding":{"theta":{"field":"value","type":"quantitative","stack":null,"scale":{"domain":[0,460],"range":[4.37554,4.70017]}},"theta2":{"field":"value"}}},
{"data":{"name":"majorTicks"},"encoding":{"theta":{"field":"value","type":"quantitative","stack":null,"scale":{"domain":[0,460],"range":[4.37554,4.70017]}}},"layer":[
{"mark":{"type":"arc","radius":280,"radius2":272,"stroke":"#000","strokeWidth":1,"fill":"#000"},"encoding":{"theta2":{"field":"value"}}},
{"mark":{"type":"text","radius":289,"fontSize":6.5},"encoding":{"text":{"field":"value","type":"quantitative","format":"d"},"angle":{"field":"value","type":"quantitative","scale":{"domain":[0,460],"range":[340.7,359.3]}}}}]}]},
{"encoding":{"theta":{"field":"value","type":"quantitative","stack":true,"scale":{"domain":[0,460],"range":[4.72461,5.04924]}}},"resolve":{"scale":{"angle":"independent"}},"layer":[
{"data":{"name":"go"},"transform":[{"filter":"datum.term=='GO:0030018'"}],"mark":{"type":"arc","radius2":86,"padAngle":0.012},"encoding":{"theta":{"value":4.72461},"theta2":{"value":5.04924},"radius":{"field":"rich","type":"quantitative","scale":{"type":"linear","domain":[0,1],"range":[86,178],"zero":false}},"color":{"field":"ont","type":"nominal","scale":{"domain":["Biological Process","Molecular Function","Cellular Component"],"range":["#00AFBB","#E7B800","#90EE90"]}}}},
{"data":{"name":"bars"},"transform":[{"filter":"datum.term=='GO:0030018'&&datum.track=='genes'"}],"layer":[
{"mark":{"type":"arc","radius":242,"radius2":224},"encoding":{"fill":{"field":"plev","type":"nominal","scale":{"domain":["(0,2]","(2,4]","(4,6]","(6,8]","(8,10]","(10,15]","(15,20]",">=20"],"range":["#fdf0ea","#fcdccf","#fbb396","#f9916f","#f5684b","#ea3b2c","#c8151c","#a50f15"]}}}},
{"mark":{"type":"text","radius":233,"dx":7,"fontSize":10},"encoding":{"text":{"field":"value","type":"quantitative","format":"d"},"angle":{"field":"value","type":"quantitative","scale":{"domain":[0,920],"range":[270.7,289.3]}}}}]},
{"data":{"name":"bars"},"transform":[{"filter":"datum.term=='GO:0030018'&&datum.track=='select'"}],"layer":[
{"mark":{"type":"arc","radius":208,"radius2":190,"fill":"#b44fd8"}},
{"mark":{"type":"text","radius":199,"dx":7,"fontSize":10},"encoding":{"text":{"field":"value","type":"quantitative","format":"d"},"angle":{"field":"value","type":"quantitative","scale":{"domain":[0,920],"range":[270.7,289.3]}}}}]},
{"data":{"name":"minorTicks"},"mark":{"type":"arc","radius":276,"radius2":272,"stroke":"#000","strokeWidth":0.7,"fill":"#000"},"encoding":{"theta":{"field":"value","type":"quantitative","stack":null,"scale":{"domain":[0,460],"range":[4.72461,5.04924]}},"theta2":{"field":"value"}}},
{"data":{"name":"majorTicks"},"encoding":{"theta":{"field":"value","type":"quantitative","stack":null,"scale":{"domain":[0,460],"range":[4.72461,5.04924]}}},"layer":[
{"mark":{"type":"arc","radius":280,"radius2":272,"stroke":"#000","strokeWidth":1,"fill":"#000"},"encoding":{"theta2":{"field":"value"}}},
{"mark":{"type":"text","radius":289,"fontSize":6.5},"encoding":{"text":{"field":"value","type":"quantitative","format":"d"},"angle":{"field":"value","type":"quantitative","scale":{"domain":[0,460],"range":[360.7,379.3]}}}}]}]},
{"encoding":{"theta":{"field":"value","type":"quantitative","stack":true,"scale":{"domain":[0,460],"range":[5.07367,5.3983]}}},"resolve":{"scale":{"angle":"independent"}},"layer":[
{"data":{"name":"go"},"transform":[{"filter":"datum.term=='GO:0031674'"}],"mark":{"type":"arc","radius2":86,"padAngle":0.012},"encoding":{"theta":{"value":5.07367},"theta2":{"value":5.3983},"radius":{"field":"rich","type":"quantitative","scale":{"type":"linear","domain":[0,1],"range":[86,178],"zero":false}},"color":{"field":"ont","type":"nominal","scale":{"domain":["Biological Process","Molecular Function","Cellular Component"],"range":["#00AFBB","#E7B800","#90EE90"]}}}},
{"data":{"name":"bars"},"transform":[{"filter":"datum.term=='GO:0031674'&&datum.track=='genes'"}],"layer":[
{"mark":{"type":"arc","radius":242,"radius2":224},"encoding":{"fill":{"field":"plev","type":"nominal","scale":{"domain":["(0,2]","(2,4]","(4,6]","(6,8]","(8,10]","(10,15]","(15,20]",">=20"],"range":["#fdf0ea","#fcdccf","#fbb396","#f9916f","#f5684b","#ea3b2c","#c8151c","#a50f15"]}}}},
{"mark":{"type":"text","radius":233,"dx":7,"fontSize":10},"encoding":{"text":{"field":"value","type":"quantitative","format":"d"},"angle":{"field":"value","type":"quantitative","scale":{"domain":[0,920],"range":[290.7,309.3]}}}}]},
{"data":{"name":"bars"},"transform":[{"filter":"datum.term=='GO:0031674'&&datum.track=='select'"}],"layer":[
{"mark":{"type":"arc","radius":208,"radius2":190,"fill":"#b44fd8"}},
{"mark":{"type":"text","radius":199,"dx":7,"fontSize":10},"encoding":{"text":{"field":"value","type":"quantitative","format":"d"},"angle":{"field":"value","type":"quantitative","scale":{"domain":[0,920],"range":[290.7,309.3]}}}}]},
{"data":{"name":"minorTicks"},"mark":{"type":"arc","radius":276,"radius2":272,"stroke":"#000","strokeWidth":0.7,"fill":"#000"},"encoding":{"theta":{"field":"value","type":"quantitative","stack":null,"scale":{"domain":[0,460],"range":[5.07367,5.3983]}},"theta2":{"field":"value"}}},
{"data":{"name":"majorTicks"},"encoding":{"theta":{"field":"value","type":"quantitative","stack":null,"scale":{"domain":[0,460],"range":[5.07367,5.3983]}}},"layer":[
{"mark":{"type":"arc","radius":280,"radius2":272,"stroke":"#000","strokeWidth":1,"fill":"#000"},"encoding":{"theta2":{"field":"value"}}},
{"mark":{"type":"text","radius":289,"fontSize":6.5},"encoding":{"text":{"field":"value","type":"quantitative","format":"d"},"angle":{"field":"value","type":"quantitative","scale":{"domain":[0,460],"range":[380.7,399.3]}}}}]}]},
{"encoding":{"theta":{"field":"value","type":"quantitative","stack":true,"scale":{"domain":[0,460],"range":[5.42274,5.74737]}}},"resolve":{"scale":{"angle":"independent"}},"layer":[
{"data":{"name":"go"},"transform":[{"filter":"datum.term=='GO:0033017'"}],"mark":{"type":"arc","radius2":86,"padAngle":0.012},"encoding":{"theta":{"value":5.42274},"theta2":{"value":5.74737},"radius":{"field":"rich","type":"quantitative","scale":{"type":"linear","domain":[0,1],"range":[86,178],"zero":false}},"color":{"field":"ont","type":"nominal","scale":{"domain":["Biological Process","Molecular Function","Cellular Component"],"range":["#00AFBB","#E7B800","#90EE90"]}}}},
{"data":{"name":"bars"},"transform":[{"filter":"datum.term=='GO:0033017'&&datum.track=='genes'"}],"layer":[
{"mark":{"type":"arc","radius":242,"radius2":224},"encoding":{"fill":{"field":"plev","type":"nominal","scale":{"domain":["(0,2]","(2,4]","(4,6]","(6,8]","(8,10]","(10,15]","(15,20]",">=20"],"range":["#fdf0ea","#fcdccf","#fbb396","#f9916f","#f5684b","#ea3b2c","#c8151c","#a50f15"]}}}},
{"mark":{"type":"text","radius":233,"dx":7,"fontSize":10},"encoding":{"text":{"field":"value","type":"quantitative","format":"d"},"angle":{"field":"value","type":"quantitative","scale":{"domain":[0,920],"range":[310.7,329.3]}}}}]},
{"data":{"name":"bars"},"transform":[{"filter":"datum.term=='GO:0033017'&&datum.track=='select'"}],"layer":[
{"mark":{"type":"arc","radius":208,"radius2":190,"fill":"#b44fd8"}},
{"mark":{"type":"text","radius":199,"dx":7,"fontSize":10},"encoding":{"text":{"field":"value","type":"quantitative","format":"d"},"angle":{"field":"value","type":"quantitative","scale":{"domain":[0,920],"range":[310.7,329.3]}}}}]},
{"data":{"name":"minorTicks"},"mark":{"type":"arc","radius":276,"radius2":272,"stroke":"#000","strokeWidth":0.7,"fill":"#000"},"encoding":{"theta":{"field":"value","type":"quantitative","stack":null,"scale":{"domain":[0,460],"range":[5.42274,5.74737]}},"theta2":{"field":"value"}}},
{"data":{"name":"majorTicks"},"encoding":{"theta":{"field":"value","type":"quantitative","stack":null,"scale":{"domain":[0,460],"range":[5.42274,5.74737]}}},"layer":[
{"mark":{"type":"arc","radius":280,"radius2":272,"stroke":"#000","strokeWidth":1,"fill":"#000"},"encoding":{"theta2":{"field":"value"}}},
{"mark":{"type":"text","radius":289,"fontSize":6.5},"encoding":{"text":{"field":"value","type":"quantitative","format":"d"},"angle":{"field":"value","type":"quantitative","scale":{"domain":[0,460],"range":[400.7,419.3]}}}}]}]}
]}
]
},
{
"width":366,"height":574,
"view":{"stroke":"#000","strokeWidth":2},
"title":{"text":"B","anchor":"start","frame":"bounds","dx":15,"offset":22,"baseline":"bottom","fontSize":16,"font":"Liberation Sans","fontWeight":"bold","color":"#000"},
"data":{"name":"kegg"},
"mark":{"type":"circle","opacity":1},
"encoding":{
 "x":{"field":"ratio","type":"quantitative","scale":{"domain":[0.0213,0.0873],"nice":false,"zero":false},
  "axis":{"values":[0.03,0.04,0.05,0.06,0.07,0.08],"format":".2f","title":"GeneRatio","titleFont":"Liberation Serif","titleFontSize":19,"titleFontWeight":"normal","titleColor":"#000","titlePadding":6,"labelFont":"DejaVu Sans","labelFontSize":15,"labelColor":"#000","labelPadding":5,"tickColor":"#000","tickSize":7,"tickWidth":1.5,"domain":false,"gridColor":"#dcdcdc","gridWidth":1}},
 "y":{"field":"pathway","type":"nominal","sort":null,"scale":{"type":"point","padding":0.5},
  "axis":{"title":"KEGG","titleAngle":0,"titleX":-434,"titleY":218,"titleAlign":"left","titleBaseline":"middle","titleFont":"Liberation Sans","titleFontSize":30,"titleFontWeight":"normal","titleColor":"#000","labelFont":"Liberation Serif","labelFontSize":19,"labelColor":"#000","labelPadding":2,"labelLimit":400,"labelLineHeight":20,
   "labelExpr":"datum.label=='Arrhythmogenic right ventricular cardiomyopathy (ARVC)'?['Arrhythmogenic right ventricular','cardiomyopathy (ARVC)']:datum.label=='Valine, leucine and isoleucine degradation'?['Valine, leucine and isoleucine','degradation']:datum.label",
   "tickColor":"#000","tickSize":11,"tickWidth":1.5,"domain":false,"gridColor":"#dcdcdc","gridWidth":1}},
 "size":{"field":"count","type":"quantitative","scale":{"type":"pow","exponent":2,"domain":[8,24],"range":[161,961],"zero":false},
  "legend":{"title":"Count","orient":"none","legendX":383,"legendY":69,"values":[8,10,15,17,20,24],"labelExpr":"datum.value==10||datum.value==15||datum.value==20?datum.label:''","titleFont":"Liberation Serif","titleFontSize":19,"titleFontWeight":"normal","titlePadding":4,"labelFont":"DejaVu Sans","labelFontSize":15,"symbolType":"circle","symbolFillColor":"#444444","symbolStrokeColor":"#222222","symbolStrokeWidth":1,"rowPadding":5,"labelOffset":12}},
 "color":{"field":"logp","type":"quantitative","scale":{"scheme":{"name":"pinkyellowgreen","extent":[1,0]},"domain":[6.05,3.3]},
  "legend":{"title":"-log10(pvalue)","orient":"none","legendX":383,"legendY":308,"gradientLength":168,"gradientThickness":30,"values":[3.5,4,4.5,5,5.5,6],"format":".1f","titleFont":"Liberation Serif","titleFontSize":19,"titleFontWeight":"normal","titlePadding":6,"labelFont":"DejaVu Sans","labelFontSize":15,"labelOffset":8,"gradientStrokeWidth":0}}
}
}
]
}
